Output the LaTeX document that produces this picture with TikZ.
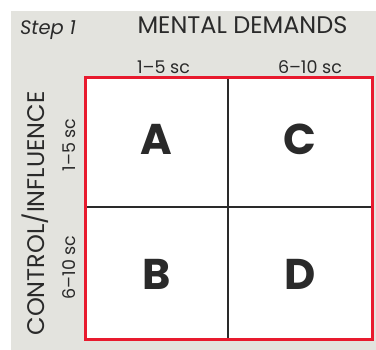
\documentclass[tikz,border=0pt]{standalone}
\usepackage{fontspec}
\setmainfont{Poppins}
\usepackage{xcolor}
\definecolor{panel}{HTML}{E3E3DE}
\definecolor{frame}{HTML}{E81A2E}
\definecolor{ink}{HTML}{2A2A2A}

\begin{document}
\begin{tikzpicture}[x=1pt, y=-1pt, text=ink]
  % pixel coordinates, y grows downwards
  \def\gl{85}  \def\gm{228}  \def\gr{372.5}
  \def\gt{77.5} \def\gc{207} \def\gb{340}
  \useasboundingbox (0,0) rectangle (376,350);
  \fill[panel] (11,11) rectangle (376,350);
  \fill[white] (\gl,\gt) rectangle (\gr,\gb);
  % Cell dividers.
  \draw[ink, line width=1.1pt] (\gm,\gt) -- (\gm,\gb);
  \draw[ink, line width=1.1pt] (\gl,\gc) -- (\gr,\gc);
  \draw[frame, line width=3pt] (\gl,\gt) rectangle (\gr,\gb);
  % Headings (placed on their baselines).
  \node[anchor=base, font=\fontsize{19.5}{23}\selectfont\itshape] (step) at (48,35) {Step 1};
  \node[anchor=base, font=\fontsize{24}{28}\selectfont] (title) at (242.5,34) {MENTAL DEMANDS};
  \node[anchor=base, font=\fontsize{17.5}{21}\selectfont] (col1) at (163.5,74) {1–5 sc};
  \node[anchor=base, font=\fontsize{17.5}{21}\selectfont] (col2) at (310,74) {6–10 sc};
  \node[anchor=base, font=\fontsize{24}{28}\selectfont, rotate=90] (side) at (45,213.5) {CONTROL/INFLUENCE};
  \node[anchor=base, font=\fontsize{17.5}{21}\selectfont, rotate=90] (row1) at (76,145) {1–5 sc};
  \node[anchor=base, font=\fontsize{17.5}{21}\selectfont, rotate=90] (row2) at (76,267.5) {6–10 sc};
  % Quadrant letters.
  \foreach \q/\x/\y in {A/156.5/155, C/300/155, B/156.5/290, D/300/290}
    \node[anchor=base, font=\fontsize{43}{50}\selectfont\bfseries] (\q) at (\x,\y) {\q};
\end{tikzpicture}
\end{document}
